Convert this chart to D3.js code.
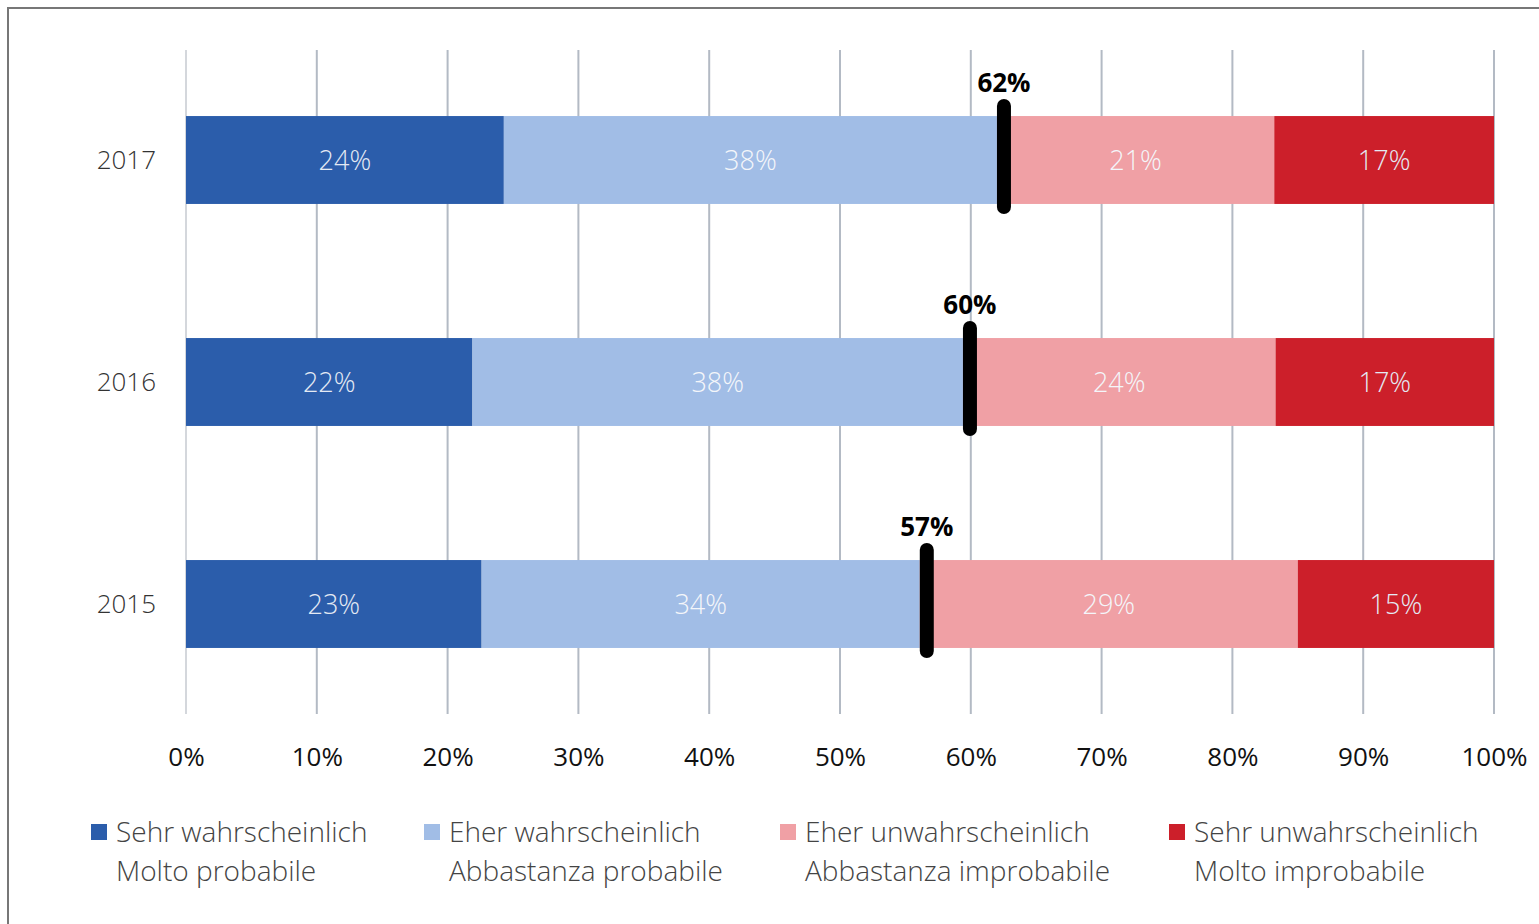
<!DOCTYPE html>
<html>
<head>
<meta charset="utf-8">
<script src="https://cdn.jsdelivr.net/npm/d3@7"></script>
<style>
  body { margin: 0; background: #fff; }
  svg { display: block; font-family: "Open Sans", sans-serif; }
</style>
</head>
<body>
<div id="chart"></div>
<script>
const width = 1539, height = 924;
const margin = { top: 49, left: 186, right: 45, bottom: 209 };

const years = ["2017", "2016", "2015"];
const categories = ["Sehr wahrscheinlich", "Eher wahrscheinlich", "Eher unwahrscheinlich", "Sehr unwahrscheinlich"];
const categoriesIt = ["Molto probabile", "Abbastanza probabile", "Abbastanza improbabile", "Molto improbabile"];
const colors = ["#2b5dab", "#a1bde6", "#f0a0a5", "#cc1f2a"];
// share per year, same order as categories
const values2017 = [24.3, 37.7, 21.2, 16.8];
const values2016 = [21.9, 37.5, 23.9, 16.7];
const values2015 = [22.6, 33.5, 28.9, 15.0];
// printed total of the two "likely" answers
const likelyLabels = ["62%", "60%", "57%"];
const xTicks = [0, 10, 20, 30, 40, 50, 60, 70, 80, 90, 100];

const rows = [values2017, values2016, values2015].map((v, i) => {
  let acc = 0;
  return {
    year: years[i],
    segs: v.map((val, k) => { const s = { k, x0: acc, x1: acc + val, val }; acc += val; return s; }),
    likely: v[0] + v[1],
    label: likelyLabels[i]
  };
});

const svg = d3.select("#chart").append("svg")
  .attr("width", width).attr("height", height);

// frame
svg.append("rect")
  .attr("x", 8).attr("y", 8)
  .attr("width", width).attr("height", height)
  .attr("fill", "none").attr("stroke", "#777").attr("stroke-width", 2);

const x = d3.scaleLinear().domain([0, 100]).range([margin.left, width - margin.right]);
const y = d3.scaleBand().domain(years)
  .range([margin.top, height - margin.bottom])
  .paddingInner(0.604).paddingOuter(0.302);

// grid
svg.append("g").selectAll("line")
  .data(xTicks).join("line")
  .attr("x1", d => x(d)).attr("x2", d => x(d))
  .attr("y1", 50).attr("y2", 714)
  .attr("stroke", d => d === 0 ? "#d4d7dc" : "#b3bac4")
  .attr("stroke-width", 2);

// x axis labels
const xAxis = svg.append("g")
  .attr("transform", `translate(0,${height - margin.bottom + 25})`)
  .call(d3.axisBottom(x).tickValues(xTicks).tickFormat(d => d + "%").tickSize(0).tickPadding(0));
xAxis.select(".domain").remove();
xAxis.selectAll("text")
  .attr("dy", "1.0em")
  .attr("font-size", 26).attr("fill", "#111")
  .attr("font-family", "Open Sans, sans-serif");

// y labels
svg.append("g").selectAll("text")
  .data(years).join("text")
  .attr("x", margin.left - 30)
  .attr("y", d => y(d) + y.bandwidth() / 2)
  .attr("dy", "0.35em")
  .attr("text-anchor", "end")
  .attr("font-size", 26).attr("font-weight", 300).attr("fill", "#333")
  .text(d => d);

// bars
const row = svg.append("g").selectAll("g")
  .data(rows).join("g")
  .attr("transform", d => `translate(0,${y(d.year)})`);

row.selectAll("rect")
  .data(d => d.segs).join("rect")
  .attr("x", d => x(d.x0))
  .attr("width", d => x(d.x1) - x(d.x0))
  .attr("height", y.bandwidth())
  .attr("fill", d => colors[d.k]);

row.selectAll("text.seg")
  .data(d => d.segs).join("text")
  .attr("class", "seg")
  .attr("x", d => (x(d.x0) + x(d.x1)) / 2)
  .attr("y", y.bandwidth() / 2)
  .attr("dy", "0.38em")
  .attr("text-anchor", "middle")
  .attr("font-size", 27).attr("font-weight", 300)
  .attr("fill", d => d.k === 0 || d.k === 3 ? "#e4eaf4" : "#f4f6fa")
  .text(d => Math.round(d.val) + "%");

// likely marker
row.append("line")
  .attr("x1", d => x(d.likely) + 7).attr("x2", d => x(d.likely) + 7)
  .attr("y1", -10).attr("y2", y.bandwidth() + 3)
  .attr("stroke", "#000").attr("stroke-width", 14)
  .attr("stroke-linecap", "round");

row.append("text")
  .attr("x", d => x(d.likely) + 7)
  .attr("y", -24)
  .attr("text-anchor", "middle")
  .attr("font-size", 26).attr("font-weight", 700).attr("fill", "#000")
  .text(d => d.label);

// legend
const legendX = [91, 424, 780, 1169];
const lg = svg.append("g").selectAll("g")
  .data(categories).join("g")
  .attr("transform", (d, i) => `translate(${legendX[i]},824)`);
lg.append("rect")
  .attr("width", 16).attr("height", 16)
  .attr("fill", (d, i) => colors[i]);
lg.append("text")
  .attr("x", 25).attr("y", 18)
  .attr("font-size", 28).attr("font-weight", 300).attr("fill", "#444")
  .text(d => d);
lg.append("text")
  .attr("x", 25).attr("y", 57)
  .attr("font-size", 28).attr("font-weight", 300).attr("fill", "#444")
  .text((d, i) => categoriesIt[i]);
</script>
</body>
</html>
